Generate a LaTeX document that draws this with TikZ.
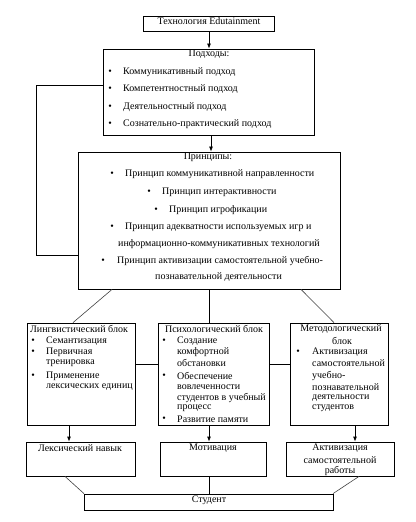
\documentclass[tikz,border=0pt]{standalone}
\usepackage{fontspec}
\setmainfont{Liberation Serif}
\usetikzlibrary{arrows.meta}
\newcommand\fsz{\fontsize{10bp}{11bp}\selectfont}
\tikzset{
  box/.style={draw, line width=0.8bp, inner sep=0, minimum width=#1},
  txt/.style={inner sep=0, font=\fsz},
  tl/.style={txt, anchor=west},
  bul/.style={txt},
  conn/.style={line width=0.8bp},
  thin/.style={line width=0.6bp, black!75},
  arr/.style={line width=0.8bp, -{Latex[length=5bp,width=4bp]}}
}
\begin{document}
\begin{tikzpicture}[x=1bp,y=-1bp]
\useasboundingbox (0,0) rectangle (415,522);
% boxes
\node[box=131bp, minimum height=15bp] (top) at (208.5,23.5) {};
\node[box=211bp, minimum height=86bp] (appr) at (208.5,92) {};
\node[box=262bp, minimum height=137bp] (princ) at (209,220.5) {};
\node[box=108bp, minimum height=102bp] (lb) at (81,374) {};
\node[box=111bp, minimum height=102bp] (mb) at (213.5,374) {};
\node[box=98bp, minimum height=102bp] (rb) at (339,374) {};
\node[box=109bp, minimum height=34bp] (l2) at (80.5,459) {};
\node[box=106bp, minimum height=34bp] (m2) at (213,459) {};
\node[box=108bp, minimum height=34bp] (r2) at (340,459) {};
\node[box=249bp, minimum height=16bp] (st) at (208.5,502) {};
% texts
\node[txt] (t0) at (209,21) {Технология  Edutainment};
\node[txt] (a0) at (209,54) {Подходы:};
\foreach \y/\t [count=\i] in {72/Коммуникативный подход,89/Компетентностный подход,107/Деятельностный подход,124/Сознательно-практический подход}{
  \node[bul] (ab\i) at (110,\y) {•};
  \node[tl] (at\i) at (123,\y) {\t};
}
\node[txt] (p0) at (208,157) {Принципы:};
\node[bul] (pb1) at (112,174) {•};
\node[tl] (pt1) at (125,174) {Принцип коммуникативной направленности};
\node[bul] (pb2) at (149,192) {•};
\node[tl] (pt2) at (162,192) {Принцип интерактивности};
\node[bul] (pb3) at (156,210) {•};
\node[tl] (pt3) at (169,210) {Принцип игрофикации};
\node[bul] (pb4) at (112,227) {•};
\node[tl] (pt4) at (125,227) {Принцип адекватности используемых игр и};
\node[tl] (pt5) at (118,244) {информационно-коммуникативных технологий};
\node[bul] (pb6) at (103,261) {•};
\node[tl] (pt6) at (117,261) {Принцип активизации самостоятельной учебно-};
\node[tl] (pt7) at (155,277) {познавательной деятельности};
% left block
\node[txt] (lh) at (79,329) {Лингвистический блок};
\node[bul] (lb1) at (33,341) {•};
\node[tl] (lt1) at (46,341) {Семантизация};
\node[bul] (lb2) at (33,352) {•};
\node[tl] (lt2) at (46,352) {Первичная};
\node[tl] (lt3) at (46,363) {тренировка};
\node[bul] (lb4) at (33,376) {•};
\node[tl] (lt4) at (46,376) {Применение};
\node[tl] (lt5) at (46,387) {лексических единиц};
% middle block
\node[txt] (mh) at (214,329) {Психологический блок};
\node[bul] (mb1) at (164,341) {•};
\node[tl] (mt1) at (177,341) {Создание};
\node[tl] (mt2) at (177,352) {комфортной};
\node[tl] (mt3) at (177,363) {обстановки};
\node[bul] (mb4) at (164,376) {•};
\node[tl] (mt4) at (177,376) {Обеспечение};
\node[tl] (mt5) at (177,387) {вовлеченности};
\node[tl] (mt6) at (177,398) {студентов в учебный};
\node[tl] (mt7) at (177,408) {процесс};
\node[bul] (mb8) at (164,419) {•};
\node[tl] (mt8) at (177,419) {Развитие памяти};
% right block
\node[txt] (rh1) at (341,329) {Методологический};
\node[txt] (rh2) at (342,341) {блок};
\node[bul] (rb1) at (298,352) {•};
\node[tl] (rt1) at (312,352) {Активизация};
\node[tl] (rt2) at (312,363) {самостоятельной};
\node[tl] (rt3) at (312,376) {учебно-};
\node[tl] (rt4) at (312,387) {познавательной};
\node[tl] (rt5) at (312,398) {деятельности};
\node[tl] (rt6) at (312,408) {студентов};
% lower boxes
\node[txt] (l2t) at (80,448) {Лексический навык};
\node[txt] (m2t) at (213,448) {Мотивация};
\node[txt] (r2t1) at (340,448) {Активизация};
\node[txt] (r2t2) at (340,460) {самостоятельной};
\node[txt] (r2t3) at (340,471) {работы};
\node[txt] (stt) at (209,500) {Студент};
% connectors
\draw[arr] (top.south -| 209,0) -- (appr.north -| 209,0);
\draw[arr] (appr.south -| 211,0) -- (princ.north -| 211,0);
\draw[conn] (appr.west |- 0,85) -- (36,85) |- (princ.west |- 0,255);
\draw[thin] (princ.south -| 112,0) -- (lb.north -| 73,0);
\draw[conn] (princ.south -| 209,0) -- (mb.north -| 209,0);
\draw[thin] (princ.south -| 301,0) -- (rb.north -| 334,0);
\draw[conn] (lb.east |- 0,364) -- (mb.west |- 0,364);
\draw[conn] (mb.east |- 0,364) -- (rb.west |- 0,364);
\draw[arr] (lb.south -| 69,0) -- (l2.north -| 69,0);
\draw[arr] (mb.south -| 209,0) -- (m2.north -| 209,0);
\draw[arr] (rb.south -| 355,0) -- (r2.north -| 355,0);
\draw[thin] (l2.south -| 65,0) -- (st.north -| 84,0);
\draw[conn] (m2.south -| 209,0) -- (st.north -| 209,0);
\draw[thin] (r2.south -| 359,0) -- (st.north -| 333,0);
\end{tikzpicture}
\end{document}
